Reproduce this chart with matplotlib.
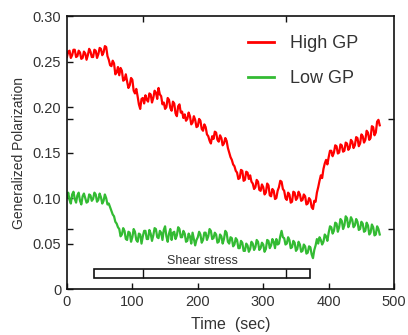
import numpy as np
import matplotlib
matplotlib.use("Agg")
import matplotlib.pyplot as plt
from matplotlib.patches import Rectangle
from matplotlib.ticker import FixedLocator

plt.rcParams['font.family'] = ['Liberation Sans', 'DejaVu Sans']

step = 2  # seconds between samples
high_gp = [
    0.255, 0.261, 0.262, 0.254, 0.257, 0.263, 0.263, 0.255, 0.256, 0.262, 0.260, 0.253, 0.254, 0.261, 0.259, 0.252, 0.257, 0.264, 0.261, 0.255,
    0.255, 0.263, 0.262, 0.254, 0.258, 0.265, 0.264, 0.257, 0.260, 0.267, 0.266, 0.256, 0.252, 0.246, 0.245, 0.251, 0.248, 0.236, 0.238, 0.244,
    0.235, 0.243, 0.240, 0.229, 0.230, 0.236, 0.228, 0.221, 0.224, 0.232, 0.230, 0.218, 0.215, 0.220, 0.212, 0.203, 0.198, 0.209, 0.210, 0.204,
    0.213, 0.208, 0.206, 0.215, 0.214, 0.205, 0.210, 0.218, 0.216, 0.209, 0.221, 0.214, 0.212, 0.203, 0.205, 0.198, 0.200, 0.210, 0.208, 0.199,
    0.196, 0.206, 0.204, 0.193, 0.190, 0.201, 0.203, 0.194, 0.195, 0.188, 0.192, 0.185, 0.187, 0.194, 0.190, 0.181, 0.183, 0.190, 0.186, 0.178,
    0.179, 0.187, 0.185, 0.176, 0.174, 0.181, 0.178, 0.170, 0.168, 0.163, 0.160, 0.168, 0.165, 0.173, 0.172, 0.164, 0.162, 0.169, 0.166, 0.158,
    0.160, 0.166, 0.163, 0.155, 0.150, 0.145, 0.142, 0.137, 0.135, 0.130, 0.128, 0.121, 0.122, 0.131, 0.130, 0.119, 0.120, 0.129, 0.128, 0.121,
    0.125, 0.118, 0.116, 0.110, 0.112, 0.120, 0.118, 0.109, 0.108, 0.115, 0.112, 0.104, 0.106, 0.116, 0.114, 0.103, 0.102, 0.110, 0.108, 0.099,
    0.100, 0.108, 0.112, 0.119, 0.118, 0.110, 0.108, 0.100, 0.098, 0.106, 0.104, 0.095, 0.096, 0.107, 0.106, 0.098, 0.100, 0.107, 0.104, 0.097,
    0.098, 0.104, 0.102, 0.093, 0.094, 0.100, 0.098, 0.090, 0.088, 0.097, 0.096, 0.106, 0.112, 0.119, 0.125, 0.122, 0.132, 0.138, 0.142, 0.137,
    0.145, 0.152, 0.152, 0.146, 0.150, 0.158, 0.157, 0.149, 0.150, 0.159, 0.158, 0.151, 0.152, 0.161, 0.160, 0.153, 0.155, 0.164, 0.162, 0.155,
    0.158, 0.167, 0.166, 0.157, 0.160, 0.170, 0.168, 0.161, 0.164, 0.174, 0.172, 0.164, 0.166, 0.179, 0.178, 0.169, 0.172, 0.184, 0.186, 0.180,
]
low_gp = [
    0.101, 0.106, 0.098, 0.094, 0.104, 0.107, 0.099, 0.095, 0.103, 0.106, 0.097, 0.093, 0.102, 0.105, 0.100, 0.095, 0.096, 0.104, 0.103, 0.097,
    0.099, 0.106, 0.104, 0.096, 0.098, 0.105, 0.101, 0.094, 0.097, 0.104, 0.100, 0.093, 0.094, 0.090, 0.086, 0.082, 0.080, 0.074, 0.072, 0.068,
    0.066, 0.058, 0.060, 0.067, 0.064, 0.055, 0.054, 0.063, 0.062, 0.052, 0.057, 0.066, 0.063, 0.054, 0.052, 0.061, 0.060, 0.050, 0.058, 0.064,
    0.064, 0.055, 0.055, 0.065, 0.061, 0.053, 0.059, 0.067, 0.066, 0.057, 0.056, 0.064, 0.062, 0.054, 0.065, 0.069, 0.058, 0.052, 0.061, 0.066,
    0.054, 0.062, 0.063, 0.055, 0.059, 0.068, 0.066, 0.057, 0.057, 0.064, 0.061, 0.052, 0.053, 0.061, 0.058, 0.050, 0.062, 0.055, 0.048, 0.054,
    0.057, 0.063, 0.060, 0.051, 0.054, 0.062, 0.062, 0.054, 0.058, 0.066, 0.064, 0.055, 0.056, 0.062, 0.060, 0.051, 0.052, 0.060, 0.058, 0.050,
    0.055, 0.064, 0.062, 0.052, 0.050, 0.057, 0.056, 0.047, 0.049, 0.056, 0.054, 0.045, 0.045, 0.053, 0.051, 0.042, 0.042, 0.050, 0.048, 0.041,
    0.044, 0.052, 0.050, 0.043, 0.046, 0.054, 0.052, 0.043, 0.045, 0.051, 0.049, 0.041, 0.044, 0.054, 0.053, 0.045, 0.048, 0.055, 0.052, 0.045,
    0.055, 0.049, 0.050, 0.058, 0.064, 0.057, 0.056, 0.049, 0.050, 0.057, 0.054, 0.045, 0.046, 0.053, 0.051, 0.042, 0.044, 0.052, 0.049, 0.041,
    0.042, 0.049, 0.047, 0.039, 0.040, 0.047, 0.046, 0.038, 0.034, 0.043, 0.048, 0.055, 0.050, 0.057, 0.054, 0.049, 0.052, 0.060, 0.058, 0.053,
    0.062, 0.069, 0.068, 0.061, 0.064, 0.073, 0.072, 0.063, 0.068, 0.077, 0.075, 0.066, 0.070, 0.080, 0.078, 0.068, 0.072, 0.079, 0.076, 0.068,
    0.070, 0.077, 0.074, 0.065, 0.066, 0.074, 0.072, 0.063, 0.064, 0.073, 0.070, 0.060, 0.062, 0.071, 0.068, 0.059, 0.060, 0.069, 0.066, 0.060,
]
time_s = np.arange(len(high_gp)) * step

xticks = [0, 100, 200, 300, 400, 500]
yticks = [0, 0.05, 0.10, 0.15, 0.20, 0.25, 0.30]
ytick_labels = ["0", "0.05", "0.10", "0.15", "0.20", "0.25", "0.30"]
x_minor = [116, 335]
y_minor = [0.066, 0.187]
shear_start, shear_end = 41, 372

txt = "#333333"
fig = plt.figure(figsize=(4.08, 3.35), dpi=100)
ax = fig.add_axes([0.164, 0.137, 0.802, 0.815])

ax.plot(time_s, high_gp, color="#ff0000", lw=1.6, label="High GP")
ax.plot(time_s, low_gp, color="#33bb33", lw=1.6, label="Low GP")

ax.add_patch(Rectangle((shear_start, 0.012), shear_end - shear_start, 0.010,
                       fill=False, edgecolor="#111111", lw=1.2))
ax.vlines(x_minor, 0.012, 0.022, color="#111111", lw=1.0)
ax.text((shear_start + shear_end) / 2, 0.024, "Shear stress", ha="center",
        va="bottom", fontsize=9, color=txt)

ax.set_xlim(0, 500)
ax.set_ylim(0, 0.30)
ax.set_xticks(xticks)
ax.set_yticks(yticks)
ax.set_yticklabels(ytick_labels)
ax.xaxis.set_minor_locator(FixedLocator(x_minor))
ax.yaxis.set_minor_locator(FixedLocator(y_minor))
ax.tick_params(which="major", direction="in", length=4, width=1, labelsize=10.5,
               colors="#111111", labelcolor=txt, pad=4)
ax.tick_params(which="minor", direction="in", length=4, width=1,
               colors="#111111", top=True, bottom=False, right=True, left=True)
for s in ax.spines.values():
    s.set_linewidth(1.2)
    s.set_color("#111111")

ax.set_xlabel("Time  (sec)", fontsize=11.5, color=txt, labelpad=6)
ax.set_ylabel("Generalized Polarization", fontsize=10, color=txt, labelpad=5)

leg = ax.legend(loc="upper right", frameon=False, fontsize=13, handlelength=1.4,
                handletextpad=0.9, labelspacing=1.0, bbox_to_anchor=(0.94, 0.99))
for t in leg.get_texts():
    t.set_color(txt)
for l in leg.get_lines():
    l.set_linewidth(2)

fig.savefig("out.png", dpi=100)
